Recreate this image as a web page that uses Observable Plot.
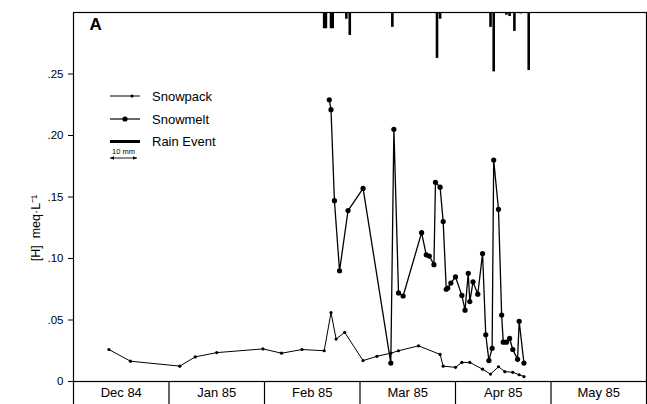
<!DOCTYPE html>
<html>
<head>
<meta charset="utf-8">
<script src="https://cdn.jsdelivr.net/npm/d3@7"></script>
<script src="https://cdn.jsdelivr.net/npm/@observablehq/plot@0.6"></script>
<style>
  html, body { margin: 0; padding: 0; background: #fff; }
  #chart svg { display: block; }
</style>
</head>
<body>
<div id="chart"></div>
<script>
// Month bands along the bottom (equal-width months)
const monthLabels = ["Dec 84", "Jan 85", "Feb 85", "Mar 85", "Apr 85", "May 85"];
const monthStarts = ["1984-12-01", "1985-01-01", "1985-02-01", "1985-03-01", "1985-04-01", "1985-05-01", "1985-06-01"];
const yTicks = [0, 0.05, 0.10, 0.15, 0.20, 0.25];

// Snowpack [H+] (meq/L)
const snowpackDates = [
  "1984-12-12T12:00", "1984-12-19T12:00", "1985-01-04T12:00", "1985-01-09T12:00",
  "1985-01-16T12:00", "1985-01-31T12:00", "1985-02-06", "1985-02-12",
  "1985-02-18T12:00", "1985-02-20T12:00", "1985-02-22", "1985-02-24T12:00",
  "1985-03-02", "1985-03-06T12:00", "1985-03-11", "1985-03-13T12:00",
  "1985-03-20", "1985-03-27", "1985-03-28", "1985-04-01",
  "1985-04-03", "1985-04-05T12:00", "1985-04-09T12:00", "1985-04-12",
  "1985-04-14T12:00", "1985-04-16T12:00", "1985-04-19", "1985-04-21", "1985-04-22T12:00"
];
const snowpackH = [
  0.026, 0.0165, 0.0125, 0.020,
  0.0235, 0.0265, 0.023, 0.026,
  0.025, 0.056, 0.0345, 0.040,
  0.017, 0.0205, 0.023, 0.025,
  0.029, 0.022, 0.0125, 0.0115,
  0.0155, 0.0155, 0.010, 0.006,
  0.012, 0.008, 0.0075, 0.0055, 0.004
];

// Snowmelt [H+] (meq/L)
const snowmeltDates = [
  "1985-02-20", "1985-02-20T12:00", "1985-02-21T12:00", "1985-02-23",
  "1985-02-25T12:00", "1985-03-02", "1985-03-11", "1985-03-12",
  "1985-03-13T12:00", "1985-03-15", "1985-03-21", "1985-03-22T12:00",
  "1985-03-23T12:00", "1985-03-25", "1985-03-25T12:00", "1985-03-27",
  "1985-03-28", "1985-03-29", "1985-03-29T12:00", "1985-03-30T12:00",
  "1985-04-01", "1985-04-03", "1985-04-04", "1985-04-05",
  "1985-04-05T12:00", "1985-04-06T12:00", "1985-04-08", "1985-04-09T12:00",
  "1985-04-10T12:00", "1985-04-11T12:00", "1985-04-12T12:00", "1985-04-13",
  "1985-04-14T12:00", "1985-04-15T12:00", "1985-04-16", "1985-04-17",
  "1985-04-18", "1985-04-19", "1985-04-20T12:00", "1985-04-21", "1985-04-22T12:00"
];
const snowmeltH = [
  0.229, 0.221, 0.147, 0.090,
  0.139, 0.157, 0.015, 0.205,
  0.072, 0.0695, 0.121, 0.103,
  0.102, 0.095, 0.162, 0.158,
  0.130, 0.075, 0.076, 0.080,
  0.085, 0.070, 0.058, 0.088,
  0.065, 0.081, 0.071, 0.104,
  0.038, 0.017, 0.027, 0.180,
  0.140, 0.054, 0.032, 0.032,
  0.035, 0.026, 0.018, 0.049, 0.015
];

// Rain events (mm), hung from the top of the frame
const rainDates = [
  "1985-02-18T12:00", "1985-02-19", "1985-02-20T12:00", "1985-02-21",
  "1985-02-25", "1985-02-26", "1985-03-11T12:00", "1985-03-26",
  "1985-03-27", "1985-04-12", "1985-04-13", "1985-04-17",
  "1985-04-18", "1985-04-19T12:00", "1985-04-21T12:00", "1985-04-24"
];
const rainMM = [
  6, 6, 6, 6,
  2.5, 8.5, 5.5, 17,
  2.5, 5.5, 22, 1,
  1.5, 7, 0.5, 21.5
];

// Layout
const W = 647, H = 404;
const mTop = 12, mBottom = 23, mLeft = 73, mRight = 1;
const yMax = 0.30;
const keyMM = 10, keyPx = 27;           // 10 mm of rain spans 27 px
const mmToY = (keyPx / (H - mTop - mBottom)) * yMax / keyMM;
const font = "'Liberation Sans', Arial, Helvetica, sans-serif";

// Position along an axis where every month has the same width
const starts = monthStarts.map(s => new Date(s + "T00:00Z"));
function monthPos(s) {
  const t = new Date(s.length > 10 ? s + "Z" : s + "T00:00Z");
  let i = 0;
  while (i < starts.length - 2 && t >= starts[i + 1]) i++;
  return i + (t - starts[i]) / (starts[i + 1] - starts[i]);
}

const snowpack = snowpackDates.map((d, i) => ({x: monthPos(d), y: snowpackH[i]}));
const snowmelt = snowmeltDates.map((d, i) => ({x: monthPos(d), y: snowmeltH[i]}));
const rain = rainDates.map((d, i) => ({x: monthPos(d), mm: rainMM[i]}));

const fmtY = d => d === 0 ? "0" : d3.format(".2f")(d).replace(/^0/, "");

const chart = Plot.plot({
  width: W,
  height: H,
  marginTop: mTop,
  marginBottom: mBottom,
  marginLeft: mLeft,
  marginRight: mRight,
  style: {fontFamily: font, fontSize: "11px", color: "#000", background: "#fff"},
  x: {type: "linear", domain: [0, monthLabels.length]},
  y: {domain: [0, yMax]},
  marks: [
    Plot.frame({stroke: "#000", strokeWidth: 1.2}),
    Plot.axisY({
      ticks: yTicks, tickSize: 5, tickPadding: 5, tickFormat: fmtY,
      fontSize: 11.5, label: null
    }),
    Plot.text(["[H]  meq·L⁻¹"], {frameAnchor: "left", textAnchor: "middle", rotate: -90, dx: -38, dy: 31, fontSize: 12.5}),
    Plot.axisX({ticks: d3.range(0, monthLabels.length + 1), tickSize: mBottom, tickFormat: () => "", label: null, strokeWidth: 1.2}),
    Plot.axisX({
      ticks: d3.range(0.5, monthLabels.length), tickSize: 0, tickPadding: 6,
      tickFormat: d => monthLabels[Math.floor(d)], fontSize: 13, label: null
    }),
    Plot.ruleX(rain, {x: "x", y1: yMax, y2: d => yMax - d.mm * mmToY, stroke: "#000", strokeWidth: 2.6}),
    Plot.line(snowpack, {x: "x", y: "y", stroke: "#000", strokeWidth: 1}),
    Plot.dot(snowpack, {x: "x", y: "y", r: 1.6, fill: "#000", stroke: "none"}),
    Plot.line(snowmelt, {x: "x", y: "y", stroke: "#000", strokeWidth: 1.3}),
    Plot.dot(snowmelt, {x: "x", y: "y", r: 2.6, fill: "#000", stroke: "none"}),
    Plot.text(["A"], {frameAnchor: "top-left", dx: 16, dy: 5, fontSize: 17, fontWeight: "bold"})
  ]
});

// Key
const svg = d3.select(chart);
const key = svg.append("g").attr("font-family", font).attr("fill", "#000").attr("text-anchor", "start");
const kx0 = 110, kx1 = 140, ktx = 152;
const rows = [
  {label: "Snowpack", y: 96, r: 1.6, mx: 132, w: 1},
  {label: "Snowmelt", y: 119, r: 2.6, mx: 125, w: 1.2},
  {label: "Rain Event", y: 141.5, r: 0, w: 3}
];
rows.forEach(row => {
  key.append("line").attr("x1", kx0).attr("x2", kx1).attr("y1", row.y).attr("y2", row.y)
    .attr("stroke", "#000").attr("stroke-width", row.w);
  if (row.r) key.append("circle").attr("cx", row.mx).attr("cy", row.y).attr("r", row.r);
  key.append("text").attr("x", ktx).attr("y", row.y).attr("dy", "0.35em")
    .attr("text-anchor", "start").attr("font-size", 13).text(row.label);
});
key.append("text").attr("x", 123.5).attr("y", 151).attr("dy", "0.35em")
  .attr("text-anchor", "middle").attr("font-size", 7.5).text(keyMM + " mm");
const ay = 158;
key.append("line").attr("x1", kx0).attr("x2", kx0 + keyPx).attr("y1", ay).attr("y2", ay)
  .attr("stroke", "#000").attr("stroke-width", 0.9);
key.append("path").attr("d", `M${kx0},${ay}l4,-1.8v3.6z M${kx0 + keyPx},${ay}l-4,-1.8v3.6z`);

document.getElementById("chart").append(chart);
</script>
</body>
</html>
